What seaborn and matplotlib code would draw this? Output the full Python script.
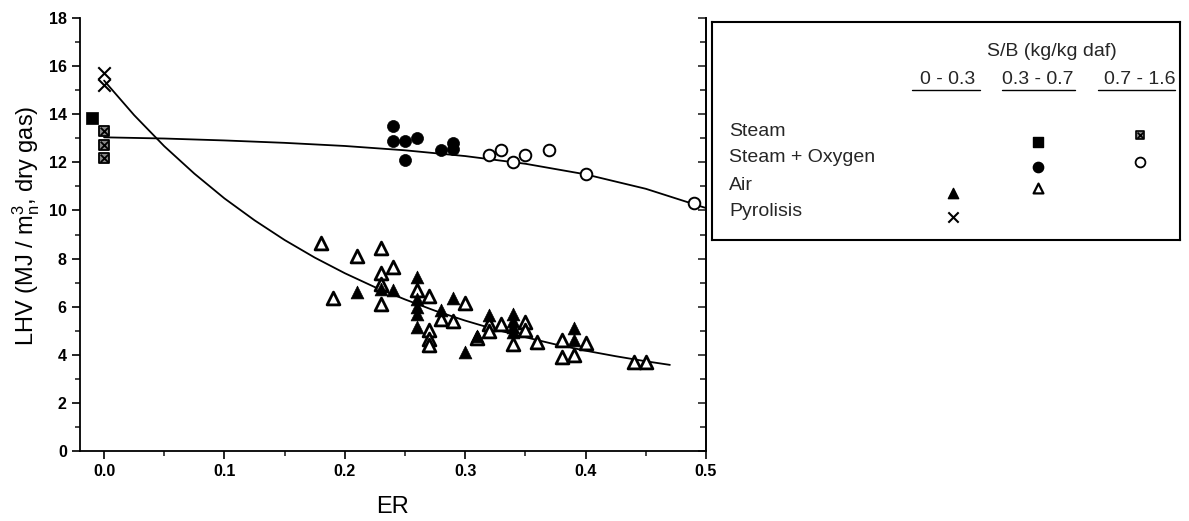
import numpy as np
import pandas as pd
import matplotlib
matplotlib.use("Agg")
import matplotlib.pyplot as plt
from matplotlib.ticker import MultipleLocator
import seaborn as sns

# ---------------- data ----------------
steam_mid_x = [-0.01]
steam_mid_y = [13.85]
steam_high_x = [0.0, 0.0, 0.0]
steam_high_y = [13.3, 12.7, 12.2]

so_mid_x = [0.24, 0.24, 0.25, 0.26, 0.25, 0.28, 0.29, 0.29]
so_mid_y = [13.5, 12.9, 12.9, 13.0, 12.1, 12.5, 12.8, 12.55]
so_high_x = [0.32, 0.33, 0.34, 0.35, 0.37, 0.40, 0.49]
so_high_y = [12.3, 12.5, 12.0, 12.3, 12.5, 11.5, 10.3]

air_low_x = [0.21, 0.23, 0.24, 0.26, 0.26, 0.26, 0.26, 0.26, 0.28, 0.29, 0.30, 0.31,
             0.32, 0.34, 0.34, 0.34, 0.34, 0.39, 0.39]
air_low_y = [6.6, 6.75, 6.7, 7.25, 6.3, 6.0, 5.7, 5.15, 5.85, 6.35, 4.1, 4.8,
             5.65, 5.7, 5.4, 5.15, 4.95, 5.1, 4.6]
air_mid_x = [0.18, 0.19, 0.21, 0.23, 0.23, 0.23, 0.23, 0.24, 0.26, 0.27, 0.27, 0.27,
             0.27, 0.28, 0.29, 0.30, 0.31, 0.32, 0.32, 0.33, 0.34, 0.35, 0.35, 0.36,
             0.38, 0.38, 0.39, 0.40, 0.44, 0.45]
air_mid_y = [8.65, 6.35, 8.1, 8.45, 7.4, 6.95, 6.1, 7.65, 6.7, 6.45, 5.05, 4.65,
             4.4, 5.5, 5.4, 6.15, 4.7, 5.3, 5.0, 5.3, 4.45, 5.38, 5.05, 4.55,
             4.6, 3.92, 3.99, 4.5, 3.7, 3.7]

pyro_x = [0.0, 0.0]
pyro_y = [15.7, 15.2]

# fitted curves
fit1_x = [0.0, 0.05, 0.10, 0.15, 0.20, 0.25, 0.30, 0.35, 0.40, 0.45, 0.50]
fit1_y = [13.04, 12.99, 12.91, 12.81, 12.68, 12.50, 12.26, 11.94, 11.50, 10.90, 10.10]

fit2_x = [0.0, 0.025, 0.05, 0.075, 0.10, 0.125, 0.15, 0.175, 0.20, 0.225, 0.25,
          0.275, 0.30, 0.325, 0.35, 0.375, 0.40, 0.425, 0.45, 0.47]
fit2_y = [15.40, 13.96, 12.67, 11.53, 10.50, 9.59, 8.77, 8.04, 7.39, 6.81, 6.30,
          5.83, 5.42, 5.05, 4.73, 4.43, 4.17, 3.94, 3.73, 3.58]

y_ticks = [0, 2, 4, 6, 8, 10, 12, 14, 16, 18]
x_ticks = [0.0, 0.1, 0.2, 0.3, 0.4, 0.5]
x_tick_labels = ["0.0", "0.1", "0.2", "0.3", "0.4", "0.5"]

row_labels = ["Steam", "Steam + Oxygen", "Air", "Pyrolisis"]
col_labels = ["0 - 0.3", "0.3 - 0.7", "0.7 - 1.6"]

# ---------------- style ----------------
sns.set_theme(style="ticks")
plt.rcParams["font.family"] = ["Liberation Sans", "DejaVu Sans"]
plt.rcParams["mathtext.fontset"] = "custom"
plt.rcParams["mathtext.rm"] = "Liberation Sans"
plt.rcParams["mathtext.it"] = "Liberation Sans:italic"
plt.rcParams["mathtext.bf"] = "Liberation Sans:bold"

fig = plt.figure(figsize=(11.89, 5.21), dpi=100)
ax = fig.add_axes([80 / 1189, 70 / 521, 626 / 1189, 433 / 521])

K = "black"
lw_open = 1.4

# curves
sns.lineplot(x=fit1_x, y=fit1_y, ax=ax, color=K, lw=1.3, sort=False)
sns.lineplot(x=fit2_x, y=fit2_y, ax=ax, color=K, lw=1.3, sort=False)

# markers
sns.scatterplot(x=steam_mid_x, y=steam_mid_y, ax=ax, marker="s", s=70, color=K,
                edgecolor=K, linewidth=0.5, zorder=3)
sns.scatterplot(x=steam_high_x, y=steam_high_y, ax=ax, marker="s", s=60, color="#888888",
                edgecolor=K, linewidth=1.3, zorder=3)
sns.scatterplot(x=steam_high_x, y=steam_high_y, ax=ax, marker="x", s=30, color=K,
                linewidth=1.3, zorder=4)
sns.scatterplot(x=so_mid_x, y=so_mid_y, ax=ax, marker="o", s=75, color=K,
                edgecolor=K, linewidth=0.5, zorder=3)
sns.scatterplot(x=so_high_x, y=so_high_y, ax=ax, marker="o", s=70, color="white",
                edgecolor=K, linewidth=lw_open, zorder=3)
sns.scatterplot(x=air_mid_x, y=air_mid_y, ax=ax, marker="^", s=85, color="white",
                edgecolor=K, linewidth=2.0, zorder=3)
sns.scatterplot(x=air_low_x, y=air_low_y, ax=ax, marker="^", s=85, color=K,
                edgecolor=K, linewidth=0.5, zorder=3)
sns.scatterplot(x=pyro_x, y=pyro_y, ax=ax, marker="x", s=80, color=K,
                linewidth=1.5, zorder=3)

ax.set_xlim(-0.02, 0.5)
ax.set_ylim(0, 18)
ax.set_xticks(x_ticks)
ax.set_xticklabels(x_tick_labels)
ax.set_yticks(y_ticks)
ax.xaxis.set_minor_locator(MultipleLocator(0.05))
ax.yaxis.set_minor_locator(MultipleLocator(1))
ax.tick_params(axis="both", which="major", direction="out", length=6, width=1.2,
               labelsize=11.5, colors=K)
ax.tick_params(axis="both", which="minor", direction="out", length=3.5, width=1.2)
for lab in ax.get_xticklabels() + ax.get_yticklabels():
    lab.set_fontweight("bold")
for sp in ax.spines.values():
    sp.set_color(K)
    sp.set_linewidth(1.3)
ax.spines["top"].set_visible(False)

# inward ticks on the right-hand frame line
rax = ax.secondary_yaxis("right")
rax.set_yticks(y_ticks)
rax.yaxis.set_minor_locator(MultipleLocator(1))
rax.tick_params(axis="y", which="major", direction="in", length=6, width=1.2,
                labelright=False)
rax.tick_params(axis="y", which="minor", direction="in", length=4, width=1.2)
rax.spines["right"].set_linewidth(1.3)

ax.set_xlabel("ER", fontsize=17, labelpad=12, color=K)
ax.set_ylabel(r"LHV (MJ / m$_{\mathrm{n}}^{3}$, dry gas)", fontsize=17, color=K)
ax.yaxis.set_label_coords(-0.061, 0.52)

# ---------------- legend panel ----------------
lax = fig.add_axes([712 / 1189, (521 - 240) / 521, 468 / 1189, 218 / 521])
lax.set_xlim(712, 1180)
lax.set_ylim(240, 22)
lax.set_xticks([])
lax.set_yticks([])
for sp in lax.spines.values():
    sp.set_color(K)
    sp.set_linewidth(1.5)
    sp.set_visible(True)

fs = 14
lax.text(1052, 52, "S/B (kg/kg daf)", ha="center", va="center", fontsize=fs)
col_x = [948, 1038, 1140]
ul = [(912, 980), (1002, 1075), (1098, 1175)]
for cx, lab, (u0, u1) in zip(col_x, col_labels, ul):
    lax.text(cx, 79, lab, ha="center", va="center", fontsize=fs)
    lax.plot([u0, u1], [90, 90], color=K, lw=1.0)
row_y = [131, 158, 185, 212]
for ry, lab in zip(row_y, row_labels):
    lax.text(729, ry, lab, ha="left", va="center", fontsize=fs)

lax.scatter([1038], [142], marker="s", s=45, color=K)
lax.scatter([1140], [135], marker="s", s=40, color="#888888", edgecolor=K, linewidth=1.2)
lax.scatter([1140], [135], marker="x", s=18, color=K, linewidth=1.2)
lax.scatter([1038], [167], marker="o", s=55, color=K)
lax.scatter([1140], [162], marker="o", s=50, color="white", edgecolor=K, linewidth=1.3)
lax.scatter([953], [193], marker="^", s=55, color=K)
lax.scatter([1038], [188], marker="^", s=50, color="white", edgecolor=K, linewidth=1.6)
lax.scatter([953], [217], marker="x", s=55, color=K, linewidth=1.5)

fig.savefig("out.png", dpi=100, facecolor="white")
